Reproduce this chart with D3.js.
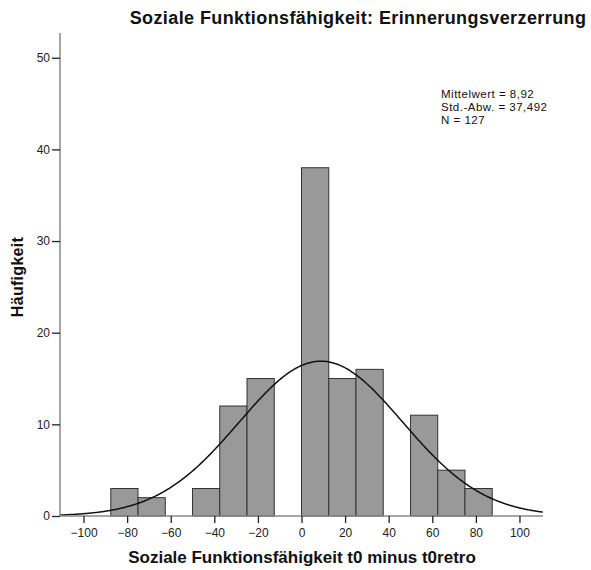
<!DOCTYPE html>
<html>
<head>
<meta charset="utf-8">
<script src="https://cdn.jsdelivr.net/npm/d3@7"></script>
<style>
  html, body { margin: 0; padding: 0; background: #fff; }
  svg { display: block; font-family: "Liberation Sans", Arial, sans-serif; }
</style>
</head>
<body>
<svg id="chart" width="591" height="570"></svg>
<script>
// Histogram bins (lower edge, upper edge) and counts
const binStart = [-87.5, -75, -50, -37.5, -25, 0, 12.5, 25, 50, 62.5, 75];
const binEnd   = [-75, -62.5, -37.5, -25, -12.5, 12.5, 25, 37.5, 62.5, 75, 87.5];
const counts   = [3, 2, 3, 12, 15, 38, 15, 16, 11, 5, 3];

const xTicks = [-100, -80, -60, -40, -20, 0, 20, 40, 60, 80, 100];
const yTicks = [0, 10, 20, 30, 40, 50];

// Summary statistics shown in the plot
const mean = 8.92;
const sd = 37.492;
const n = 127;
const binWidth = 12.5;
const statLines = ["Mittelwert = 8,92", "Std.-Abw. = 37,492", "N = 127"];

const title = "Soziale Funktionsfähigkeit: Erinnerungsverzerrung";
const xTitle = "Soziale Funktionsfähigkeit t0 minus t0retro";
const yTitle = "Häufigkeit";

const svg = d3.select("#chart");
const plotLeft = 60, plotRight = 543, plotTop = 33, plotBottom = 516;

const x = d3.scaleLinear().domain([-110.8, 110.8]).range([plotLeft, plotRight]);
const y = d3.scaleLinear().domain([0, 52.7]).range([plotBottom, plotTop]);

// Bars
svg.append("g").selectAll("rect")
  .data(counts)
  .join("rect")
  .attr("x", (d, i) => x(binStart[i]))
  .attr("width", (d, i) => x(binEnd[i]) - x(binStart[i]))
  .attr("y", d => y(d))
  .attr("height", d => y(0) - y(d))
  .attr("fill", "#999999")
  .attr("stroke", "#333333")
  .attr("stroke-width", 1);

// Fitted normal curve, scaled to counts per bin
const pdf = v => Math.exp(-0.5 * ((v - mean) / sd) ** 2) / (sd * Math.sqrt(2 * Math.PI));
const curveX = d3.range(x.domain()[0], x.domain()[1] + 0.01, 0.5);
svg.append("path")
  .datum(curveX)
  .attr("fill", "none")
  .attr("stroke", "#111")
  .attr("stroke-width", 1.5)
  .attr("d", d3.line().x(v => x(v)).y(v => y(n * binWidth * pdf(v))).curve(d3.curveBasis));

// Axes
const axisColor = "#888";
const xAxis = svg.append("g")
  .attr("transform", `translate(0,${plotBottom})`)
  .call(d3.axisBottom(x).tickValues(xTicks).tickSize(7).tickSizeOuter(0).tickPadding(5));
const yAxis = svg.append("g")
  .attr("transform", `translate(${plotLeft},0)`)
  .call(d3.axisLeft(y).tickValues(yTicks).tickSize(8).tickSizeOuter(0).tickPadding(2));

[xAxis, yAxis].forEach(g => {
  g.select(".domain").attr("stroke", axisColor).attr("stroke-width", 1.5);
  g.selectAll(".tick line").attr("stroke", "#222").attr("stroke-width", 1.3);
  g.selectAll(".tick text").attr("fill", "#222")
    .style("font-family", "'Liberation Sans', Arial, sans-serif").style("font-size", "12px");
});
// Baseline extends across the full plot width
xAxis.select(".domain").attr("d", `M${plotLeft},0H${plotRight}`);
yAxis.select(".domain").attr("d", `M0,${plotTop}V${plotBottom}`);

// Stats box
const stats = svg.append("text")
  .attr("x", 441).attr("y", 98)
  .attr("font-size", "11.5px").attr("letter-spacing", "0.5px").attr("fill", "#111");
statLines.forEach((t, i) => {
  stats.append("tspan").attr("x", 441).attr("dy", i === 0 ? 0 : 13).text(t);
});

// Titles
svg.append("text")
  .attr("x", 358).attr("y", 24)
  .attr("text-anchor", "middle")
  .attr("font-size", "18px").attr("letter-spacing", "0.4px")
  .attr("font-weight", "bold").attr("fill", "#111")
  .text(title);

svg.append("text")
  .attr("x", 302).attr("y", 563)
  .attr("text-anchor", "middle")
  .attr("font-size", "17px")
  .attr("font-weight", "bold").attr("fill", "#111")
  .text(xTitle);

svg.append("text")
  .attr("transform", "translate(23,277) rotate(-90)")
  .attr("text-anchor", "middle")
  .attr("font-size", "16px").attr("letter-spacing", "0.3px")
  .attr("font-weight", "bold").attr("fill", "#111")
  .text(yTitle);
</script>
</body>
</html>
